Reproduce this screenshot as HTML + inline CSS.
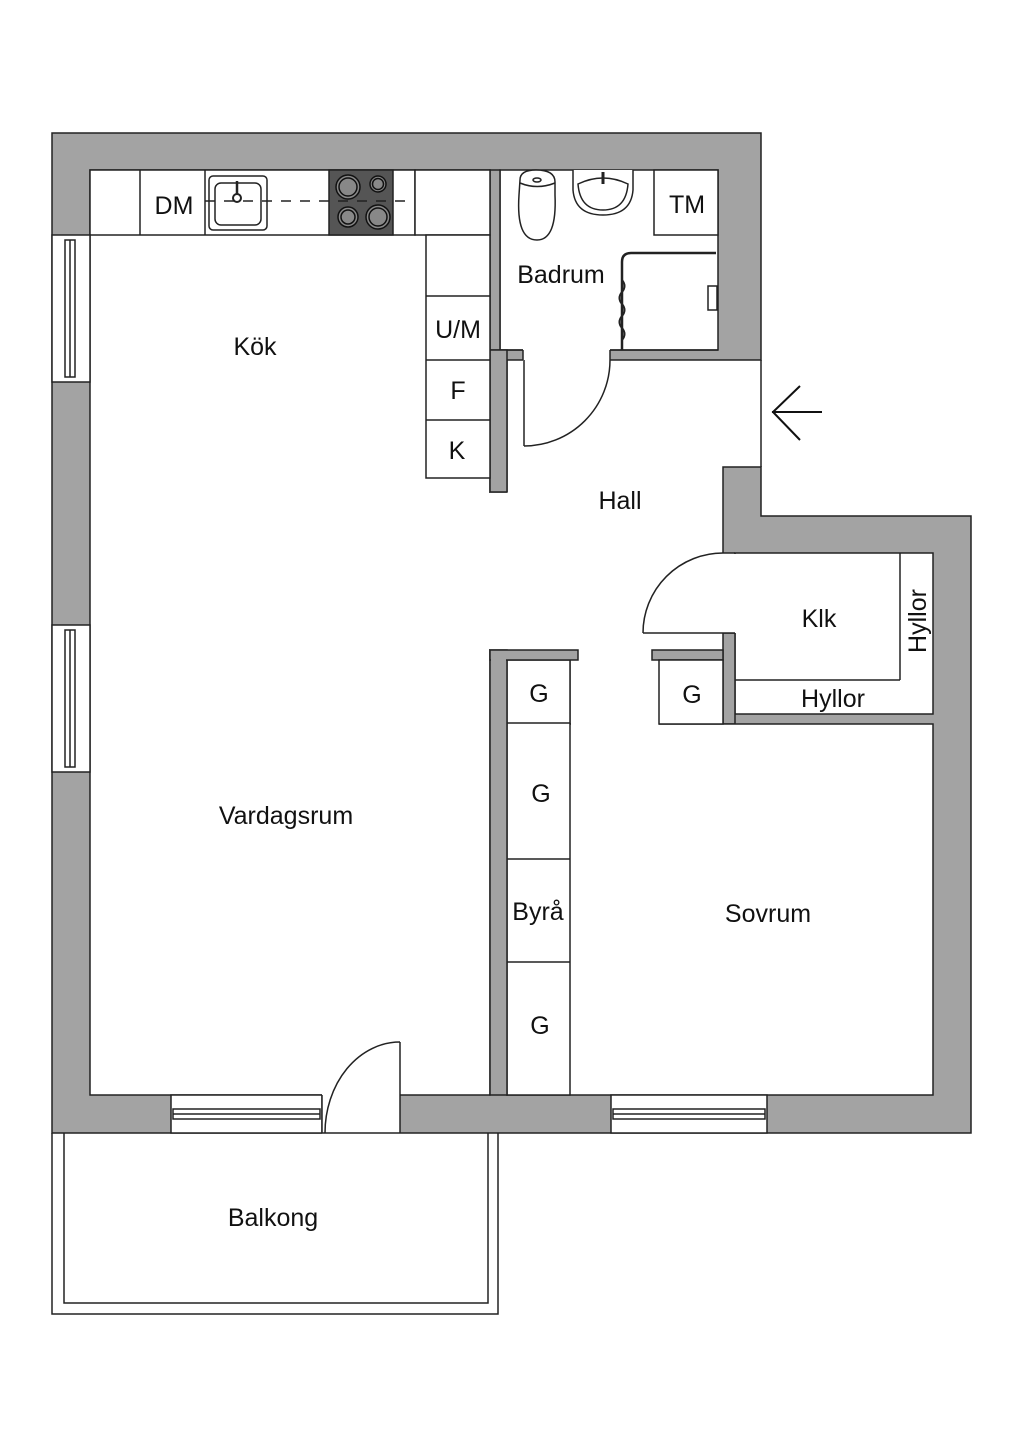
<!DOCTYPE html>
<html><head><meta charset="utf-8"><style>
html,body{margin:0;padding:0;background:#fff;}
svg{display:block}
text{font-family:"Liberation Sans",sans-serif;fill:#111;}
</style></head><body>
<svg width="1024" height="1448" viewBox="0 0 1024 1448" xmlns="http://www.w3.org/2000/svg">
<g stroke="#222" stroke-width="1.5">
<polygon points="52,133 761,133 761,360 761,516 971,516 971,1133 52,1133" fill="#a3a3a3"/>
<rect x="90" y="170" width="400" height="925" fill="#fff"/>
<rect x="500" y="170" width="218" height="180" fill="#fff"/>
<polygon points="507,360 523,360 523,350 610,350 610,360 761,360 761,467 723,467 723,553 735,553 735,633 723,633 723,650 652,650 652,660 578,660 578,650 490,650 490,492 507,492" fill="#fff" stroke="none"/>
<line x1="507" y1="360" x2="507" y2="492"/>
<line x1="610" y1="360" x2="761" y2="360"/>
<polyline points="761,467 723,467 723,553" fill="none"/>
<line x1="490" y1="492" x2="507" y2="492"/>
<rect x="489" y="493" width="20" height="156" fill="#fff" stroke="none"/>
<rect x="523" y="349" width="87" height="12" fill="#fff" stroke="none"/>
<line x1="500" y1="350" x2="523" y2="350"/>
<line x1="610" y1="350" x2="718" y2="350"/>
<line x1="507" y1="360" x2="523" y2="360"/>
<line x1="523" y1="350" x2="523" y2="360"/>
<line x1="610" y1="350" x2="610" y2="360"/>
<rect x="755" y="361" width="12" height="105" fill="#fff" stroke="none"/>
<line x1="761" y1="360" x2="761" y2="467"/>
<rect x="735" y="553" width="198" height="161" fill="#fff"/>
<rect x="723" y="633" width="12" height="91" fill="#a3a3a3"/>
<line x1="735" y1="680" x2="900" y2="680"/>
<line x1="900" y1="553" x2="900" y2="680"/>
<rect x="643" y="554" width="93" height="79" fill="#fff" stroke="none"/>
<line x1="723" y1="553" x2="735" y2="553"/>
<line x1="643" y1="633" x2="735" y2="633"/>
<path d="M643,633 A80,80 0 0 1 723,553" fill="none"/>
<rect x="507" y="724" width="426" height="371" fill="#fff"/>
<rect x="571" y="651" width="88" height="75" fill="#fff" stroke="none"/>
<rect x="652" y="650" width="71" height="10" fill="#a3a3a3"/>
<rect x="659" y="660" width="64" height="64" fill="#fff"/>
<rect x="507" y="660" width="63" height="435" fill="#fff"/>
<rect x="490" y="650" width="17" height="445" fill="#a3a3a3"/>
<rect x="490" y="650" width="88" height="10" fill="#a3a3a3"/>
<rect x="491" y="651" width="15" height="10" fill="#a3a3a3" stroke="none"/>
<line x1="507" y1="723" x2="570" y2="723"/>
<line x1="507" y1="859" x2="570" y2="859"/>
<line x1="507" y1="962" x2="570" y2="962"/>
<rect x="490" y="170" width="10" height="180" fill="#a3a3a3"/>
<rect x="490" y="350" width="17" height="142" fill="#a3a3a3"/>
<rect x="90" y="170" width="325" height="65" fill="#fff"/>
<rect x="415" y="170" width="75" height="65" fill="#fff"/>
<line x1="140" y1="170" x2="140" y2="235"/>
<line x1="205" y1="170" x2="205" y2="235"/>
<rect x="329" y="170" width="64" height="65" fill="#555"/>
<rect x="426" y="235" width="64" height="243" fill="#fff"/>
<line x1="426" y1="296" x2="490" y2="296"/>
<line x1="426" y1="360" x2="490" y2="360"/>
<line x1="426" y1="420" x2="490" y2="420"/>
<rect x="209" y="176" width="58" height="54" rx="4" fill="#fff"/>
<rect x="215" y="183" width="46" height="42" rx="6" fill="#fff"/>
<line x1="237" y1="181" x2="237" y2="196" stroke-width="2.5"/>
<circle cx="237" cy="198" r="4" fill="#fff" stroke-width="2"/>
<line x1="205" y1="201" x2="412" y2="201" stroke-dasharray="10,9"/>
<g fill="#888" stroke="#111">
<circle cx="348" cy="187" r="12"/><circle cx="348" cy="187" r="9"/>
<circle cx="378" cy="184" r="8"/><circle cx="378" cy="184" r="5.5"/>
<circle cx="348" cy="217" r="10"/><circle cx="348" cy="217" r="7"/>
<circle cx="378" cy="217" r="12"/><circle cx="378" cy="217" r="9"/>
</g>
<rect x="654" y="170" width="64" height="65" fill="#fff"/>
<path d="M520,180 Q520,170 536,170 Q555,170 555,182 L555,195 Q557,240 537,240 Q516,240 519,195 Z" fill="#fff"/>
<path d="M520,183 Q537,190 555,183" fill="none"/>
<ellipse cx="537" cy="180" rx="4" ry="2" fill="none"/>
<path d="M573,170 L573,190 Q575,215 603,215 Q631,215 633,190 L633,170" fill="#fff"/>
<path d="M578,184 Q580,210 603,210 Q626,210 628,184 Q603,172 578,184Z" fill="none"/>
<line x1="603" y1="172" x2="603" y2="184" stroke-width="3"/>
<path d="M622,350 L622,262 Q622,253 631,253 L716,253" fill="none" stroke-width="2.5"/>
<path d="M622,280 q5,6 0,12 q-5,6 0,12 q5,6 0,12 q-5,6 0,12 q5,6 0,12" fill="none" stroke-width="2"/>
<rect x="708" y="286" width="9" height="24" fill="#fff"/>
<line x1="524" y1="360" x2="524" y2="446"/>
<path d="M524,446 A86,86 0 0 0 610,360" fill="none"/>
<rect x="52" y="235" width="38" height="147" fill="#fff"/>
<rect x="65" y="240" width="10" height="137" fill="#fff"/>
<line x1="70" y1="240" x2="70" y2="377"/>
<rect x="52" y="625" width="38" height="147" fill="#fff"/>
<rect x="65" y="630" width="10" height="137" fill="#fff"/>
<line x1="70" y1="630" x2="70" y2="767"/>
<rect x="171" y="1095" width="151" height="38" fill="#fff"/>
<rect x="173" y="1109" width="147" height="10" fill="#fff"/>
<line x1="173" y1="1114" x2="320" y2="1114"/>
<rect x="611" y="1095" width="156" height="38" fill="#fff"/>
<rect x="613" y="1109" width="152" height="10" fill="#fff"/>
<line x1="613" y1="1114" x2="765" y2="1114"/>
<rect x="322" y="1094" width="78" height="40" fill="#fff" stroke="none"/>
<line x1="322" y1="1095" x2="322" y2="1133"/>
<line x1="400" y1="1042" x2="400" y2="1133"/>
<path d="M325,1133 A75,91 0 0 1 400,1042" fill="none"/>
<line x1="322" y1="1133" x2="400" y2="1133"/>
<polyline points="52,1133 52,1314 498,1314 498,1133" fill="none"/>
<polyline points="64,1133 64,1303 488,1303 488,1133" fill="none"/>
<g stroke="#111" stroke-width="2" fill="none">
<line x1="772" y1="412" x2="822" y2="412"/>
<polyline points="800,386 773,412 800,440"/>
</g>
</g>
<g font-size="25">
<text x="174" y="214" text-anchor="middle">DM</text>
<text x="687" y="213" text-anchor="middle">TM</text>
<text x="561" y="283" text-anchor="middle">Badrum</text>
<text x="255" y="355" text-anchor="middle">Kök</text>
<text x="458" y="338" text-anchor="middle">U/M</text>
<text x="458" y="399" text-anchor="middle">F</text>
<text x="457" y="459" text-anchor="middle">K</text>
<text x="620" y="509" text-anchor="middle">Hall</text>
<text x="819" y="627" text-anchor="middle">Klk</text>
<text x="833" y="707" text-anchor="middle">Hyllor</text>
<text transform="translate(926,621) rotate(-90)" text-anchor="middle">Hyllor</text>
<text x="539" y="702" text-anchor="middle">G</text>
<text x="692" y="703" text-anchor="middle">G</text>
<text x="541" y="802" text-anchor="middle">G</text>
<text x="538" y="920" text-anchor="middle">Byrå</text>
<text x="540" y="1034" text-anchor="middle">G</text>
<text x="286" y="824" text-anchor="middle">Vardagsrum</text>
<text x="768" y="922" text-anchor="middle">Sovrum</text>
<text x="273" y="1226" text-anchor="middle">Balkong</text>
</g>
</svg>
</body></html>
